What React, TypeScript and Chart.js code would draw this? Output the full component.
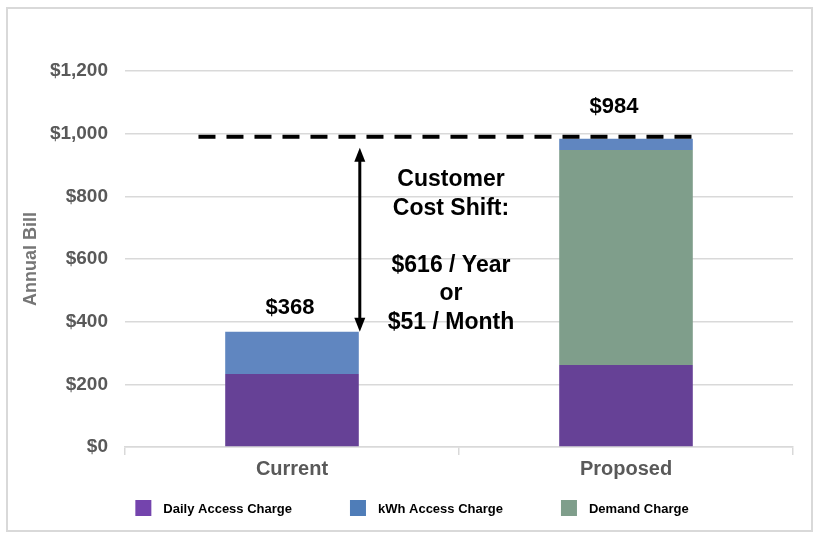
import React, { useEffect, useRef } from "react";
import { Chart, registerables } from "chart.js";

Chart.register(...registerables);

const categories = ["Current", "Proposed"];
const dailyAccess = [233, 262];
const kwhAccess = [135, 36];
const demandCharge = [0, 686];
const seriesNames = ["Daily Access Charge", "kWh Access Charge", "Demand Charge"];
const stackOrder = [0, 2, 1];
const seriesColors = ["#664196", "#6086c0", "#7f9e8b"];
const legendColors = ["#7444ad", "#4f7db8", "#7f9e8b"];
const yTicks = [0, 200, 400, 600, 800, 1000, 1200];
const shiftLines = ["Customer", "Cost Shift:", "", "$616 / Year", "or", "$51 / Month"];

const FONT = "'Liberation Sans', Arial, sans-serif";

const overlayPlugin = {
  id: "overlay",
  beforeDraw(chart: any) {
    const ctx = chart.ctx;
    ctx.save();
    ctx.fillStyle = "#ffffff";
    ctx.fillRect(0, 0, chart.width, chart.height);
    ctx.strokeStyle = "#d9d9d9";
    ctx.lineWidth = 2;
    ctx.strokeRect(7, 8, 805, 523);
    ctx.restore();
  },
  afterDatasetsDraw(chart: any) {
    const ctx = chart.ctx;
    const x = chart.scales.x;
    const y = chart.scales.y;
    const totals = categories.map((_, i) => dailyAccess[i] + kwhAccess[i] + demandCharge[i]);
    const catW = x.getPixelForValue(1) - x.getPixelForValue(0);
    const barW = catW * 0.4;
    ctx.save();
    // value labels
    ctx.fillStyle = "#000";
    ctx.font = `bold 22px ${FONT}`;
    ctx.textAlign = "center";
    ctx.textBaseline = "middle";
    const offs = [-24, -32];
    const xoffs = [-2, -12];
    totals.forEach((t, i) => {
      ctx.fillText("$" + t.toLocaleString("en-US"), x.getPixelForValue(i) + xoffs[i], y.getPixelForValue(t) + offs[i]);
    });
    // dashed line
    const yTop = y.getPixelForValue(totals[1]) - 2;
    const xStart = x.getPixelForValue(0) - catW * 0.28;
    const xEnd = x.getPixelForValue(1) + barW / 2;
    ctx.strokeStyle = "#000";
    ctx.lineWidth = 4;
    ctx.setLineDash([17, 11]);
    ctx.beginPath();
    ctx.moveTo(xStart, yTop);
    ctx.lineTo(xEnd, yTop);
    ctx.stroke();
    ctx.setLineDash([]);
    // arrow
    const ax = x.getPixelForValue(0) + barW / 2 + 1;
    const aTop = yTop + 11;
    const aBot = y.getPixelForValue(totals[0]);
    ctx.lineWidth = 3;
    ctx.beginPath();
    ctx.moveTo(ax, aTop + 10);
    ctx.lineTo(ax, aBot - 10);
    ctx.stroke();
    ctx.beginPath();
    ctx.moveTo(ax, aTop);
    ctx.lineTo(ax - 5.5, aTop + 14);
    ctx.lineTo(ax + 5.5, aTop + 14);
    ctx.closePath();
    ctx.fill();
    ctx.beginPath();
    ctx.moveTo(ax, aBot);
    ctx.lineTo(ax - 5.5, aBot - 14);
    ctx.lineTo(ax + 5.5, aBot - 14);
    ctx.closePath();
    ctx.fill();
    // text
    const tx = (x.getPixelForValue(0) + x.getPixelForValue(1)) / 2 - 8;
    ctx.font = `bold 23px ${FONT}`;
    shiftLines.forEach((line, i) => {
      if (line) ctx.fillText(line, tx, aTop + 32 + i * 28.5);
    });
    // legend
    ctx.font = `bold 13px ${FONT}`;
    ctx.textAlign = "left";
    const gap = 58;
    const widths = seriesNames.map((n) => 16 + 12 + ctx.measureText(n).width);
    const total = widths.reduce((a, b) => a + b, 0) + gap * (seriesNames.length - 1);
    let lx = 412 - total / 2;
    const ly = 508;
    seriesNames.forEach((n, i) => {
      ctx.fillStyle = legendColors[i];
      ctx.fillRect(lx, ly - 8, 16, 16);
      ctx.fillStyle = "#000";
      ctx.fillText(n, lx + 28, ly + 1);
      lx += widths[i] + gap;
    });
    ctx.restore();
  },
};

export default function App() {
  const ref = useRef<HTMLCanvasElement>(null);
  useEffect(() => {
    if (!ref.current) return;
    const data = [dailyAccess, kwhAccess, demandCharge];
    const chart = new Chart(ref.current, {
      type: "bar",
      data: {
        labels: categories,
        datasets: seriesNames.map((name, i) => ({
          label: name,
          data: data[i],
          order: stackOrder[i],
          backgroundColor: seriesColors[i],
          borderWidth: 0,
          barPercentage: 0.4,
          categoryPercentage: 1,
        })),
      },
      options: {
        responsive: false,
        animation: false,
        devicePixelRatio: 1,
        layout: { padding: { left: 0, top: 71, right: 24, bottom: 47 } },
        plugins: {
          legend: { display: false },
          tooltip: { enabled: false },
        },
        scales: {
          x: {
            stacked: true,
            grid: {
              display: true,
              drawOnChartArea: false,
              offset: true,
              tickLength: 8,
              color: "#d9d9d9",
              lineWidth: 1.5,
            },
            border: { display: true, color: "#d9d9d9", width: 1.5 },
            ticks: {
              color: "#595959",
              font: { family: FONT, size: 20, weight: "bold" },
              padding: 2,
            },
            afterFit(scale: any) {
              scale.height = 43;
            },
          },
          y: {
            stacked: true,
            min: 0,
            max: 1200,
            afterBuildTicks(scale: any) {
              scale.ticks = yTicks.map((v) => ({ value: v }));
            },
            grid: { color: "#d9d9d9", lineWidth: 1.5, drawTicks: false },
            border: { display: false },
            ticks: {
              color: "#595959",
              font: { family: FONT, size: 19, weight: "bold" },
              padding: 17,
              callback: (v: any) => "$" + Number(v).toLocaleString("en-US"),
            },
            title: {
              display: true,
              text: "Annual Bill",
              color: "#767676",
              font: { family: FONT, size: 18, weight: "bold" },
              padding: { top: 20, bottom: 0 },
            },
            afterFit(scale: any) {
              scale.width = 125;
            },
          },
        },
      },
      plugins: [overlayPlugin],
    });
    return () => chart.destroy();
  }, []);
  return (
    <div style={{ position: "absolute", left: 0, top: 0, width: 817, height: 537 }}>
      <canvas ref={ref} width={817} height={537} style={{ width: 817, height: 537 }} />
    </div>
  );
}
